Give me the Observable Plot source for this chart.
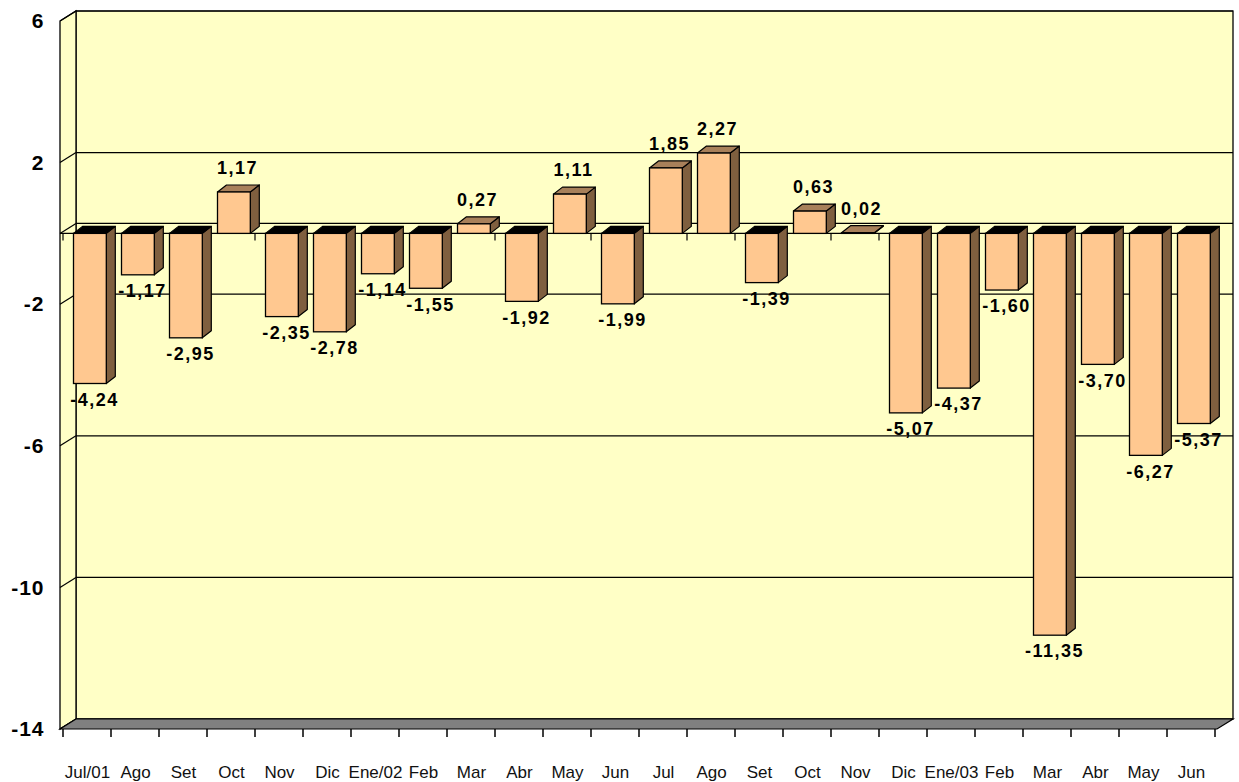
<!DOCTYPE html>
<html><head><meta charset="utf-8">
<script src="https://cdn.jsdelivr.net/npm/d3@7"></script>
<script src="https://cdn.jsdelivr.net/npm/@observablehq/plot@0.6"></script>
<style>
body{margin:0;background:#fff;}
#chart svg{font-family:"Liberation Sans",Arial,sans-serif;}
#chart g[aria-label="y-axis tick label"] text{font-weight:bold;letter-spacing:1px;}
#chart g[aria-label="text"] text{letter-spacing:1.5px;}
</style></head>
<body><div id="chart"></div>
<script>
const months = ["Jul/01","Ago","Set","Oct","Nov","Dic","Ene/02","Feb","Mar","Abr","May","Jun",
                "Jul","Ago","Set","Oct","Nov","Dic","Ene/03","Feb","Mar","Abr","May","Jun"];
const values = [-4.24,-1.17,-2.95,1.17,-2.35,-2.78,-1.14,-1.55,0.27,-1.92,1.11,-1.99,
                1.85,2.27,-1.39,0.63,0.02,-5.07,-4.37,-1.60,-11.35,-3.70,-6.27,-5.37];
const yTicks = [-14,-10,-6,-2,2,6];
const gridLevels = [-14,-10,-6,-2,0,2,6];

const data = months.map((m,i)=>({i, label:m, value:values[i]}));

const FRONT="#ffc890", SIDE="#7f5f3f", TOPPOS="#a8805a", TOPNEG="#000000",
      WALL="#ffffc6", FLOOR="#808080";
const DX=16, DY=-10, BDX=9, BDY=-7, INL=10.5, INR=4.7;
const fmt = v => v.toFixed(2).replace(".", ",");

function bandW(scales, dim){
  const b = scales.x.bandwidth;
  if (typeof b === "function") return b();
  if (typeof b === "number") return b;
  return (dim.width - dim.marginLeft - dim.marginRight)/months.length;
}
const pts = a => a.map(p=>p.join(",")).join(" ");

function renderWalls(index, scales, vals, dim){
  const x0 = dim.marginLeft, x1 = dim.width - dim.marginRight;
  const yTop = scales.y(d3.max(yTicks)), yBot = scales.y(d3.min(yTicks));
  const w = bandW(scales, dim);
  const g = d3.create("svg:g");
  g.append("rect").attr("x", x0+DX).attr("y", yTop+DY).attr("width", x1-x0).attr("height", yBot-yTop)
    .attr("fill", WALL).attr("stroke","#000").attr("stroke-width",1.3);
  g.append("polygon").attr("points", pts([[x0,yTop],[x0+DX,yTop+DY],[x0+DX,yBot+DY],[x0,yBot]]))
    .attr("fill", WALL).attr("stroke","#000").attr("stroke-width",1.3);
  for (const i of index){
    const t = gridLevels[i];
    const y = scales.y(t);
    g.append("line").attr("x1",x0+DX).attr("x2",x1+DX).attr("y1",y+DY).attr("y2",y+DY)
      .attr("stroke","#000").attr("stroke-width",1.2);
    g.append("line").attr("x1",x0).attr("x2",x0+DX).attr("y1",y).attr("y2",y+DY)
      .attr("stroke","#000").attr("stroke-width",1.2);
  }
  g.append("polygon").attr("points", pts([[x0,yBot],[x0+DX,yBot+DY],[x1+DX,yBot+DY],[x1,yBot]]))
    .attr("fill", FLOOR).attr("stroke","#000").attr("stroke-width",1.2);
  const edges = data.map(d=>scales.x(d.i)).concat([scales.x(data[data.length-1].i)+w]);
  for (const x of edges){
    g.append("line").attr("x1",x).attr("x2",x).attr("y1",yBot).attr("y2",yBot+8)
      .attr("stroke","#000").attr("stroke-width",1.5);
  }
  const y0 = scales.y(0);
  g.append("line").attr("x1",x0).attr("x2",x1).attr("y1",y0).attr("y2",y0)
    .attr("stroke","#000").attr("stroke-width",1.2);
  for (const x of edges){
    g.append("line").attr("x1",x).attr("x2",x).attr("y1",y0).attr("y2",y0+7)
      .attr("stroke","#000").attr("stroke-width",1.2);
  }
  return g.node();
}

function renderBars(index, scales, vals, dim){
  const w = bandW(scales, dim);
  const g = d3.create("svg:g");
  const y0 = scales.y(0);
  for (const k of index){
    const d = data[k];
    const xs = scales.x(d.i) + INL, xe = scales.x(d.i) + w - INR;
    const yv = scales.y(d.value);
    const top = Math.min(y0,yv), bot = Math.max(y0,yv);
    g.append("polygon").attr("points", pts([[xe,top],[xe+BDX,top+BDY],[xe+BDX,bot+BDY],[xe,bot]]))
      .attr("fill", SIDE).attr("stroke","#000").attr("stroke-width",1.2).attr("stroke-linejoin","round");
    g.append("polygon").attr("points", pts([[xs,top],[xs+BDX,top+BDY],[xe+BDX,top+BDY],[xe,top]]))
      .attr("fill", d.value >= 0 ? TOPPOS : TOPNEG).attr("stroke","#000").attr("stroke-width",1.2).attr("stroke-linejoin","round");
    g.append("rect").attr("x",xs).attr("y",top).attr("width",xe-xs).attr("height",Math.max(bot-top,0.5))
      .attr("fill", FRONT).attr("stroke","#000").attr("stroke-width",1.3);
  }
  return g.node();
}

const chart = Plot.plot({
  width: 1239,
  height: 782,
  marginLeft: 60,
  marginRight: 22,
  marginTop: 21,
  marginBottom: 53,
  x: {type:"band", domain: data.map(d=>d.i), paddingInner:0, paddingOuter:0},
  y: {domain:[-14,6]},
  marks: [
    Plot.ruleY(gridLevels.map((v,i)=>i), {y: i=>gridLevels[i], render: renderWalls}),
    Plot.barY(data, {x:"i", y:"value", render: renderBars}),
    Plot.text(data.filter(d=>d.value>=0), {x:"i", y:"value", text:d=>fmt(d.value), dx:6, dy:-24,
      fontSize:18, fontWeight:"bold", fill:"#000", textAnchor:"middle", lineAnchor:"middle"}),
    Plot.text(data.filter(d=>d.value<0), {x:"i", y:"value", text:d=>fmt(d.value), dx:7, dy:16,
      fontSize:18, fontWeight:"bold", fill:"#000", textAnchor:"middle", lineAnchor:"middle"}),
    Plot.axisY(yTicks, {tickSize:0, tickPadding:16, fontSize:21, fontWeight:"bold", tickFormat:d=>String(d), fill:"#000", label:null}),
    Plot.axisX({tickSize:0, tickPadding:36, fontSize:17, tickFormat:i=>months[i], fill:"#111", label:null})
  ]
});
document.getElementById("chart").appendChild(chart);
</script>
</body></html>
